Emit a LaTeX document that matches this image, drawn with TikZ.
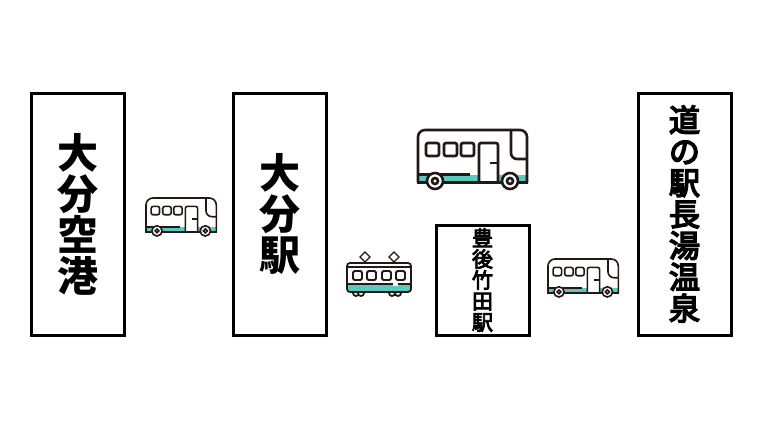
\documentclass[tikz,border=0pt]{standalone}
\usepackage{fontspec}
\newfontfamily\cjk{Noto Sans CJK JP}
\newfontfamily\cjkmid[FakeBold=5]{Noto Sans CJK JP}
\newfontfamily\cjksmall[FakeBold=4]{Noto Sans CJK JP}
\definecolor{linedark}{HTML}{231815}
\definecolor{stripeteal}{HTML}{5CC9BF}
\tikzset{
  stationbox/.style={draw=black,line width=3pt,fill=white,minimum width=93pt,align=center,inner sep=0pt},
  bigname/.style={font=\cjk\bfseries\fontsize{41}{41}\selectfont},
  midname/.style={font=\cjkmid\fontsize{31}{31.4}\selectfont},
  smallname/.style={font=\cjksmall\fontsize{21}{21}\selectfont},
  wheel/.style={draw=linedark,fill=white},
  bus/.pic={
    \fill[stripeteal] (0,45) rectangle (109,52.5);
    \fill[white] (61,44) rectangle (80,52.5);
    \draw[linedark,rounded corners=7pt] (0,52.5) -- (0,0) -- (109,0) -- (109,52.5);
    \draw[linedark] (-1.2,52.5) -- (110.2,52.5);
    \draw[linedark] (0,44.5) -- (52,44.5);
    \draw[linedark,rounded corners=6pt] (93,0) -- (93,29) -- (109,29);
    \foreach \x in {8,26,43}
    \draw[linedark,rounded corners=2pt] (\x,13) rectangle ++(13,13);
    \draw[linedark,rounded corners=2pt] (61,52.5) -- (61,13) -- (80,13) -- (80,52.5);
    \draw[linedark] (72,33) -- (80,33);
    \foreach \x in {17,92}{
    \draw[wheel] (\x,51) circle (8);
    \draw[wheel] (\x,51) circle (3);}
  },
  train/.pic={
    \foreach \x in {9,14,45,51}
    \draw[linedark,fill=white] (\x,30) circle (3);
    \fill[stripeteal] (0,21) rectangle (64,29);
    \fill[white] (46,21) rectangle (51,23);
    \draw[linedark,rounded corners=3pt] (0,29) -- (0,0) -- (64,0) -- (64,29) -- cycle;
    \draw[linedark] (0,4) -- (64,4);
    \draw[linedark] (0,21) -- (46,21);
    \draw[linedark] (51,21) -- (64,21);
    \foreach \x in {6,20,35,49}
    \draw[linedark,rounded corners=1.5pt] (\x,8) rectangle ++(9,9);
    \foreach \x in {18,47}{
    \draw[linedark,line width=1.2pt] (\x,-11) -- ++(5,5) -- ++(-5,5) -- ++(-5,-5) -- cycle;}
  }
}
\begin{document}
\begin{tikzpicture}[x=1pt,y=-1pt]
\useasboundingbox (0,0) rectangle (760,428);
\node[stationbox,bigname,minimum height=242pt] (airport) at (77.5,214) {大\\分\\空\\港};
\node[stationbox,bigname,minimum height=242pt] (oita) at (279.5,214) {大\\分\\駅};
\node[stationbox,smallname,minimum height=110pt] (taketa) at (482.5,280) {豊\\後\\竹\\田\\駅};
\node[stationbox,midname,minimum height=242pt] (nagayu) at (684.5,214) {道\\の\\駅\\長\\湯\\温\\泉};
\pic[line width=1.6pt,scale=.645] (busa) at (146,198) {bus};
\pic[line width=2.6pt] (busb) at (418,130) {bus};
\pic[line width=1.6pt,scale=.645] (busc) at (548,259) {bus};
\pic[line width=1.8pt] (traina) at (347,263) {train};
\end{tikzpicture}
\end{document}
